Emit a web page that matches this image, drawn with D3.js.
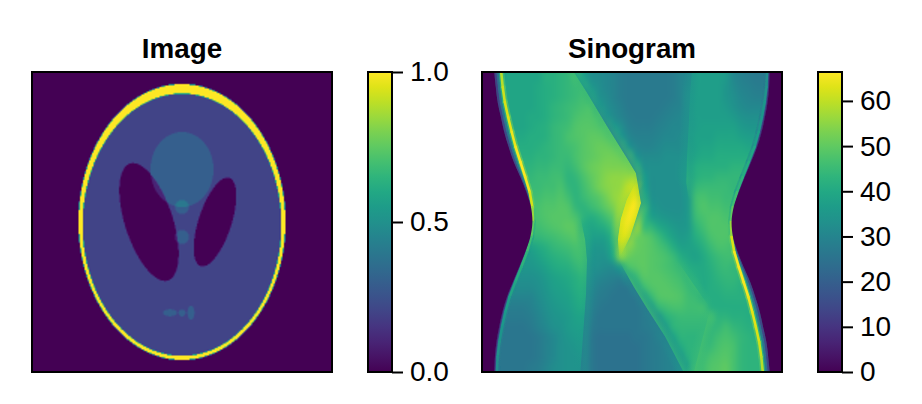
<!DOCTYPE html>
<html><head><meta charset="utf-8">
<script src="https://cdn.jsdelivr.net/npm/d3@7"></script>
<style>
html,body{margin:0;padding:0;background:#fff}
svg{display:block}
text{font-family:"Liberation Sans",Arial,sans-serif;fill:#000}
</style></head><body><svg id="c" width="922" height="404"></svg>
<script>
// Phantom ellipses (axes run -1..1)
const ellValue=[1,-0.8,-0.2,-0.2,0.1,0.1,0.1,0.1,0.1,0.1];
const ellRx=[0.69,0.6624,0.11,0.16,0.21,0.046,0.046,0.046,0.023,0.023];
const ellRy=[0.92,0.874,0.31,0.41,0.25,0.046,0.046,0.023,0.023,0.046];
const ellCx=[0,0,0.22,-0.22,0,0,0,-0.08,0,0.06];
const ellCy=[0,-0.0184,0,0,0.35,0.1,-0.1,-0.605,-0.606,-0.605];
const ellDeg=[0,0,-18,18,0,0,0,0,0,0];

// Sinogram cells (30 rows by 40 columns)
const sinoGrid=[
[38,38,38,39,39,39,39,39,42,42,43,44,46,38,33,32,31,30,28,27,27,27,27,27,27,28,30,31,37,37,37,37,36,31,29,28,27,27,27,27],
[38,38,40,39,39,39,39,40,41,42,43,44,45,44,36,33,31,30,28,27,27,27,27,27,27,28,30,32,37,37,37,37,35,32,30,29,28,28,28,28],
[38,38,38,39,39,39,39,40,41,42,43,44,45,46,42,34,32,30,28,27,27,27,27,27,27,28,30,33,37,37,37,37,35,33,31,30,29,29,29,29],
[38,38,38,39,39,39,39,40,41,43,44,45,46,47,47,38,33,31,29,27,27,27,27,27,28,29,30,33,37,37,37,37,36,34,32,31,31,31,31,31],
[39,39,39,39,39,39,40,40,41,43,44,45,47,48,48,46,36,32,30,28,27,27,27,28,29,30,31,33,37,37,37,37,37,36,34,33,33,33,33,33],
[39,39,39,39,39,39,40,41,42,44,45,46,48,49,49,48,46,37,33,29,28,28,28,29,30,31,31,34,37,38,38,38,38,38,36,35,35,35,35,35],
[40,40,40,40,40,40,41,41,42,44,45,47,48,49,50,50,49,46,36,31,29,29,29,30,31,31,32,34,38,38,38,39,39,39,38,37,37,37,37,37],
[41,41,41,41,41,41,41,42,43,44,45,46,47,49,50,51,51,50,47,35,31,30,30,31,32,32,32,34,38,39,39,40,40,40,40,39,39,39,39,39],
[42,42,42,42,42,42,42,43,43,44,45,45,47,49,50,51,52,52,51,48,35,32,32,32,33,33,33,35,39,40,40,41,41,41,41,41,41,41,41,41],
[43,43,43,43,43,43,43,44,44,45,45,44,46,49,51,52,53,53,53,52,45,34,33,33,33,33,34,36,41,42,42,42,42,43,43,43,43,43,43,43],
[44,44,44,44,44,44,44,45,45,46,46,43,44,47,50,52,54,55,55,56,56,38,33,33,33,33,34,36,42,43,43,44,44,44,44,44,44,44,44,44],
[45,45,45,45,45,45,45,45,46,46,47,44,43,46,49,52,54,55,56,60,63,40,33,33,33,33,33,36,44,45,45,45,45,44,44,44,44,44,44,44],
[46,46,46,46,46,46,46,46,47,47,48,46,43,45,47,49,52,55,57,62,65,44,34,33,33,33,33,36,46,47,46,46,45,45,45,45,45,45,45,45],
[47,47,47,47,47,47,47,47,48,48,49,48,44,43,45,47,50,53,58,65,66,48,36,34,33,33,33,36,46,48,47,47,46,46,46,46,46,46,46,46],
[47,47,47,47,47,47,47,47,48,49,49,49,47,43,41,43,46,50,60,66,66,46,38,36,35,34,34,36,45,47,48,48,47,47,46,46,46,46,46,46],
[46,46,46,46,46,46,46,46,47,48,49,50,49,41,39,40,42,47,62,66,62,46,44,40,38,36,35,36,43,46,48,48,48,47,47,46,46,46,46,46],
[44,44,44,44,44,44,44,44,45,46,47,48,49,44,38,37,38,44,62,64,52,50,48,45,41,38,36,37,41,44,47,48,48,47,46,45,45,45,45,45],
[38,38,38,38,38,38,38,40,42,44,45,46,47,46,36,35,36,42,60,55,51,50,49,47,45,41,38,38,39,42,45,47,47,46,45,44,44,44,44,44],
[36,36,36,36,36,36,36,38,40,42,43,44,46,46,35,34,34,40,54,51,50,50,49,48,47,45,41,39,38,40,43,45,46,46,45,44,43,43,43,43],
[35,35,35,35,35,35,35,36,38,40,41,42,44,45,34,33,32,32,38,47,49,50,49,48,47,46,44,41,40,40,42,44,45,44,44,43,42,42,42,42],
[33,33,33,33,33,33,33,34,36,38,39,40,42,43,33,31,30,29,29,36,44,49,49,49,48,47,46,43,41,40,41,43,44,44,43,42,41,41,41,41],
[32,32,32,32,32,32,32,33,35,37,38,39,41,42,32,29,28,27,26,27,35,45,48,49,49,48,47,45,43,40,41,42,43,43,42,41,40,40,40,40],
[30,30,30,30,30,30,30,32,34,36,37,38,40,41,31,28,27,26,26,26,27,35,44,48,49,49,48,46,45,42,41,41,42,42,42,41,40,39,39,39],
[28,28,28,28,28,28,29,31,33,35,36,37,39,40,30,27,26,26,26,26,26,28,35,44,46,47,47,46,46,46,42,41,41,41,41,41,40,39,39,39],
[27,27,27,27,27,27,28,30,32,34,35,36,38,38,29,26,26,26,26,26,26,27,29,34,42,44,45,45,45,45,46,43,43,42,42,41,41,41,40,40],
[26,26,26,26,26,26,27,29,31,33,34,36,37,37,28,26,26,26,26,26,26,27,28,30,36,43,44,44,44,44,44,44,46,44,43,42,42,41,41,41],
[26,26,26,26,26,26,26,27,29,31,33,35,36,36,27,25,25,25,25,25,26,26,27,29,31,38,43,43,43,43,44,46,47,46,44,43,42,42,42,42],
[26,26,26,26,26,26,26,27,29,31,33,34,35,35,27,25,25,25,25,25,25,26,27,28,30,33,40,43,43,44,45,47,48,47,44,43,43,43,43,43],
[26,26,26,26,26,26,26,27,29,31,33,34,34,34,27,25,25,25,25,25,25,26,27,28,29,31,35,42,43,45,47,48,49,47,44,43,43,43,43,43],
[26,26,26,26,26,26,27,28,30,32,33,34,34,33,27,25,25,25,25,25,25,26,27,28,29,30,33,37,44,46,48,49,50,47,44,43,43,43,43,43]];

// Outline of the sinogram, read at 21 heights from top (0) to bottom (1)
const edgeT=[0,.05,.1,.15,.2,.25,.3,.35,.4,.45,.5,.55,.6,.65,.7,.75,.8,.85,.9,.95,1];
const leftEdge=[.041,.046,.052,.063,.074,.089,.106,.128,.148,.163,.168,.161,.144,.124,.103,.083,.068,.057,.048,.043,.041];
const rightEdge=[.959,.957,.952,.943,.932,.917,.897,.876,.856,.839,.832,.837,.852,.872,.894,.911,.926,.937,.948,.954,.959];
const leftRidge=[.064,.069,.076,.087,.099,.112,.128,.144,.159,.168,.170,.164,.150,.131,.111,.092,.078,.067,.058,.052,.050];
const rightRidge=[.950,.948,.942,.933,.922,.908,.889,.869,.850,.836,.830,.832,.841,.856,.872,.888,.901,.913,.924,.931,.936];
const leftPeak=[58,60,62,63,64,65,66,66,65,60,52,48,44,42,40,38,36,35,34,33,32];
const rightPeak=[32,33,34,35,36,38,40,42,44,48,52,60,65,66,66,65,64,63,62,60,58];

// Sharp folds in the sinogram: position, height, value just left and just right
const foldNames=["D","E","F","C","B","A","lens"];
const foldX=[[.70,.694,.689,.683,.681,.689],[.65,.761],[.761,.706],[.328,.344,.35,.347,.339,.328],[.456,.506,.55,.611,.672],[.306,.35,.417,.486,.513,.53,.494,.458],[.517,.483,.463,.453,.458]];
const foldT=[[0,.069,.181,.292,.37,.426],[.627,.788],[.788,1],[.482,.56,.627,.738,.849,1],[.627,.716,.788,.883,1],[0,.069,.181,.292,.337,.437,.548,.621],[.359,.426,.49,.559,.621]];
const foldLeft=[[32,33,33,35,36,36],[46,45],[44,45],[48,47,45,41,37,34],[33,27,27,29,33],[45,46,48,51,55,64,60,54],[56,56,52,46,42]];
const foldRight=[[36,36,37,40,43,45],[43,42],[46,47],[42,38,35,31,29,28],[46,46,45,43,43],[38,34,30,31,33,37,50,50],[60,62,64,62,54]];

const imgTicks=[0,0.5,1], imgTickLabels=["0.0","0.5","1.0"];
const sinoTicks=[0,10,20,30,40,50,60], sinoTickLabels=["0","10","20","30","40","50","60"];
const imgMax=1, sinoMax=66.4;
const titles=["Image","Sinogram"];

const svg=d3.select("#c");
const top_=72,bot=372;
const px1=[32,332],px2=[482,782],cb1=[368,392],cb2=[818,842];
const imgColor=d3.scaleSequential(d3.interpolateViridis).domain([0,imgMax]);
const sinoColor=d3.scaleSequential(d3.interpolateViridis).domain([0,sinoMax]);
const dark=d3.interpolateViridis(0);

function toImage(w,h,draw,smooth,tw,th,after){
  const a=document.createElement("canvas");a.width=w;a.height=h;draw(a.getContext("2d"));
  const b=document.createElement("canvas");b.width=tw;b.height=th;
  const g=b.getContext("2d");g.imageSmoothingEnabled=smooth;g.imageSmoothingQuality="high";
  g.drawImage(a,0,0,tw,th);
  if(after)after(g);
  return b.toDataURL();
}

// left heatmap
const N=200;
const gx=d3.scaleLinear().domain([0,N]).range([-1,1]);
const gy=d3.scaleLinear().domain([0,N]).range([1,-1]);
function phantom(x,y){
  let v=0;
  ellValue.forEach((a,k)=>{
    const t=ellDeg[k]*Math.PI/180,dx=x-ellCx[k],dy=y-ellCy[k];
    const u=dx*Math.cos(t)+dy*Math.sin(t),w=-dx*Math.sin(t)+dy*Math.cos(t);
    if(u*u/(ellRx[k]*ellRx[k])+w*w/(ellRy[k]*ellRy[k])<=1)v+=a;
  });
  return v;
}
const phantomHref=toImage(N,N,g=>{
  for(let j=0;j<N;j++)for(let i=0;i<N;i++){
    let s=0;
    for(const a of [.25,.75])for(const b of [.25,.75])s+=phantom(gx(i+a),gy(j+b));
    g.fillStyle=imgColor(Math.max(0,Math.min(1,s/4)));g.fillRect(i,j,1,1);
  }
},true,300,300);
svg.append("image").attr("x",px1[0]).attr("y",top_).attr("width",300).attr("height",300).attr("href",phantomHref);

// right heatmap
const R=sinoGrid.length,C=sinoGrid[0].length;
const fx=d3.scaleLinear().domain([0,1]).range([0,300]);
function drawFolds(g){
  const w=9,peak=0.8;
  foldNames.forEach((_,n)=>{
    const pos=d3.scaleLinear().domain(foldT[n]).range(foldX[n]);
    const lv=d3.scaleLinear().domain(foldT[n]).range(foldLeft[n]);
    const rv=d3.scaleLinear().domain(foldT[n]).range(foldRight[n]);
    const t0=foldT[n][0],t1=foldT[n][foldT[n].length-1];
    for(let y=Math.round(fx(t0));y<Math.round(fx(t1));y++){
      const t=fx.invert(y+.5),x=fx(pos(t));
      let fade=peak;
      if(t0>.01)fade=Math.min(fade,(t-t0)*300/24);
      if(t1<.99)fade=Math.min(fade,(t1-t)*300/24);
      const paint=(v,xa,xb)=>{
        const c=d3.rgb(sinoColor(v));
        const gr=g.createLinearGradient(xa,0,xb,0);
        const col=o=>`rgba(${c.r},${c.g},${c.b},${o*fade})`;
        gr.addColorStop(0,col(0));gr.addColorStop(1,col(1));
        g.fillStyle=gr;
        g.fillRect(Math.min(xa,xb),y,Math.abs(xb-xa),1);
      };
      paint(lv(t),x-w,x);
      paint(rv(t),x+w,x);
    }
  });
}
const sinoHref=toImage(C,R,g=>{
  sinoGrid.forEach((row,j)=>row.forEach((v,i)=>{g.fillStyle=sinoColor(v);g.fillRect(i,j,1,1);}));
},true,300,300,drawFolds);
svg.append("image").attr("x",px2[0]).attr("y",top_).attr("width",300).attr("height",300).attr("href",sinoHref);

const sx=d3.scaleLinear().domain([0,1]).range(px2);
const sy=d3.scaleLinear().domain([0,1]).range([top_,bot]);
const defs=svg.append("defs");
defs.append("clipPath").attr("id","sc").append("rect").attr("x",px2[0]).attr("y",top_).attr("width",300).attr("height",300);
const fl=defs.append("filter").attr("id","soft").attr("x","-5%").attr("y","-5%").attr("width","110%").attr("height","110%");
fl.append("feGaussianBlur").attr("stdDeviation",0.55);
const sg=svg.append("g").attr("clip-path","url(#sc)");
const idx=d3.range(edgeT.length);
const rg=sg.append("g").attr("filter","url(#soft)");
const sides=[[leftEdge,leftRidge,leftPeak],[rightEdge,rightRidge,rightPeak]];
// ridge shoulder, then shaded rim between outline and ridge, then the ridge
d3.range(edgeT.length-1).forEach(i=>{
  sides.forEach(([e,r,p])=>{
    rg.append("path").attr("fill","none").attr("stroke",sinoColor(.82*(p[i]+p[i+1])/2)).attr("stroke-width",6)
      .attr("stroke-linecap","round").attr("opacity",.55)
      .attr("d",d3.line().x(k=>sx(r[k])).y(k=>sy(edgeT[k]))([i,i+1]));
  });
});
[[0,.34,.22],[.34,.67,.42],[.67,1,.68]].forEach(([a,b,m])=>{
  d3.range(edgeT.length-1).forEach(i=>{
    sides.forEach(([e,r,p])=>{
      rg.append("path").attr("fill",sinoColor(p[i]*m)).attr("stroke",sinoColor(p[i]*m)).attr("stroke-width",.5)
        .attr("d",d3.area().x0(k=>sx(e[k]+(r[k]-e[k])*a)).x1(k=>sx(e[k]+(r[k]-e[k])*b)).y(k=>sy(edgeT[k]))([i,i+1]));
    });
  });
});
d3.range(edgeT.length-1).forEach(i=>{
  sides.forEach(([e,r,p])=>{
    rg.append("path").attr("fill","none").attr("stroke",sinoColor((p[i]+p[i+1])/2)).attr("stroke-width",2.6)
      .attr("stroke-linecap","round")
      .attr("d",d3.line().x(k=>sx(r[k])).y(k=>sy(edgeT[k]))([i,i+1]));
  });
});
// dark outside the outline
sg.append("path").attr("fill",dark)
  .attr("d",d3.area().x0(sx(0)).x1(i=>sx(leftEdge[i])).y(i=>sy(edgeT[i])).curve(d3.curveCatmullRom)(idx));
sg.append("path").attr("fill",dark)
  .attr("d",d3.area().x0(i=>sx(rightEdge[i])).x1(sx(1)).y(i=>sy(edgeT[i])).curve(d3.curveCatmullRom)(idx));

// frames and titles
[[px1,titles[0]],[px2,titles[1]]].forEach(([p,t])=>{
  svg.append("rect").attr("x",p[0]).attr("y",top_).attr("width",p[1]-p[0]).attr("height",bot-top_)
    .attr("fill","none").attr("stroke","#000").attr("stroke-width",2);
  svg.append("text").attr("x",(p[0]+p[1])/2).attr("y",58).attr("text-anchor","middle")
    .attr("font-weight","bold").attr("font-size",27.8).text(t);
});

// colour bars
function colorbar(px,color,max,ticks,labels,id){
  const grad=defs.append("linearGradient").attr("id",id).attr("x1",0).attr("x2",0).attr("y1",1).attr("y2",0);
  d3.range(0,1.0001,0.05).forEach(f=>grad.append("stop").attr("offset",f).attr("stop-color",color(f*max)));
  svg.append("rect").attr("x",px[0]).attr("y",top_).attr("width",px[1]-px[0]).attr("height",bot-top_)
    .attr("fill",`url(#${id})`).attr("stroke","#000").attr("stroke-width",2);
  const y=d3.scaleLinear().domain([0,max]).range([bot,top_]);
  const ax=d3.axisRight(y).tickValues(ticks).tickFormat((d,i)=>labels[i]).tickSize(11).tickPadding(7);
  const g=svg.append("g").attr("transform",`translate(${px[1]},0)`).call(ax);
  g.select(".domain").remove();
  g.selectAll("line").attr("stroke","#000").attr("stroke-width",2);
  g.selectAll("text").attr("font-size",28).attr("font-family",'"Liberation Sans",Arial,sans-serif').attr("fill","#000");
}
colorbar(cb1,imgColor,imgMax,imgTicks,imgTickLabels,"g1");
colorbar(cb2,sinoColor,sinoMax,sinoTicks,sinoTickLabels,"g2");
</script></body></html>
